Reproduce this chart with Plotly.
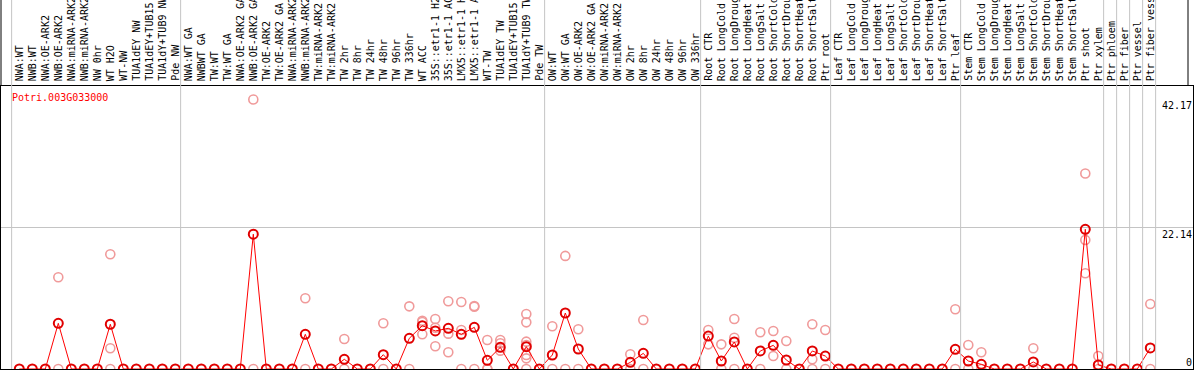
import plotly.graph_objects as go

categories = [
    "NWA:WT", "NWB:WT", "NWA:OE-ARK2", "NWB:OE-ARK2", "NWA:miRNA-ARK2", "NWB:miRNA-ARK2",
    "NW 0hr", "WT H2O", "WT-NW", "TUA1dEY NW", "TUA1dEY+TUB15 NW", "TUA1dY+TUB9 NW", "Pde NW",
    "NWA:WT GA", "NWBWT GA", "TW:WT", "TW:WT GA", "NWA:OE-ARK2 GA", "NWB:OE-ARK2 GA",
    "TW:OE-ARK2", "TW:OE-ARK2 GA", "NWA:miRNA-ARK2 GA", "NWB:miRNA-ARK2 GA", "TW:miRNA-ARK2",
    "TW:miRNA-ARK2 GA", "TW 2hr", "TW 8hr", "TW 24hr", "TW 48hr", "TW 96hr", "TW 336hr",
    "WT ACC", "35S::etr1-1 H2O", "35S::etr1-1 ACC", "LMX5::etr1-1 H2O", "LMX5::etr1-1 ACC",
    "WT-TW", "TUA1dEY TW", "TUA1dEY+TUB15 TW", "TUA1dY+TUB9 TW", "Pde TW",
    "OW:WT", "OW:WT GA", "OW:OE-ARK2", "OW:OE-ARK2 GA", "OW:miRNA-ARK2", "OW:miRNA-ARK2 GA",
    "OW 2hr", "OW 8hr", "OW 24hr", "OW 48hr", "OW 96hr", "OW 336hr",
    "Root CTR", "Root LongCold", "Root LongDrought", "Root LongHeat", "Root LongSalt",
    "Root ShortCold", "Root ShortDrought", "Root ShortHeat", "Root ShortSalt", "Ptr root",
    "Leaf CTR", "Leaf LongCold", "Leaf LongDrought", "Leaf LongHeat", "Leaf LongSalt",
    "Leaf ShortCold", "Leaf ShortDrought", "Leaf ShortHeat", "Leaf ShortSalt", "Ptr leaf",
    "Stem CTR", "Stem LongCold", "Stem LongDrought", "Stem LongHeat", "Stem LongSalt",
    "Stem ShortCold", "Stem ShortDrought", "Stem ShortHeat", "Stem ShortSalt", "Ptr shoot",
    "Ptr xylem", "Ptr phloem", "Ptr fiber", "Ptr vessel", "Ptr fiber vessel",
]

mean_values = [
    0, 0, 0, 7.15, 0, 0, 0, 7.0, 0, 0,
    0, 0, 0, 0, 0, 0, 0, 0, 21.09, 0,
    0, 0, 5.43, 0, 0, 1.52, 0, 0, 2.24, 0,
    4.8, 6.78, 5.95, 6.37, 5.43, 6.52, 1.36, 3.39, 0, 3.49,
    0, 2.19, 8.76, 3.13, 0, 0, 0, 1.04, 2.45, 0,
    0, 0, 0, 5.16, 1.25, 4.23, 0, 2.82, 3.7, 1.41,
    0, 2.82, 2.03, 0, 0, 0, 0, 0, 0, 0,
    0, 0, 3.08, 1.25, 0.73, 0, 0, 0, 1.1, 0,
    0, 0, 21.86, 0.63, 0, 0, 0, 3.29,
]

# replicate values per category index
replicate_values = {
    3: [14.35, 0], 7: [17.95, 3.24, 0], 18: [42.17, 0], 22: [11.06, 0],
    25: [4.69, 0], 28: [7.15, 0], 30: [9.8, 0], 31: [7.56, 5.43, 7.35],
    32: [7.82, 6.46, 3.55], 33: [10.59, 5.53, 2.61], 34: [10.49, 6.1, 0],
    35: [9.86, 9.75, 0], 36: [4.54, 0, 0], 37: [4.54, 4.02, 2.87],
    39: [8.6, 7.3, 4.28, 3.76, 2.19, 1.67, 0], 41: [6.68, 0], 42: [17.7, 0],
    43: [6.21, 0], 47: [2.3, 0], 48: [7.67, 0], 53: [6.1, 3.86], 54: [3.86, 0],
    55: [7.82, 4.9, 0], 57: [5.74, 0], 58: [5.95, 2.03], 59: [4.38, 0],
    61: [7.0, 1.52, 0], 62: [6.1, 0], 72: [9.34, 0], 73: [3.76, 0], 74: [2.61, 0],
    78: [3.24, 0], 82: [30.6, 20.2, 14.97], 83: [2.03, 0], 87: [10.17, 0],
}

# last index of each group (separator drawn after it)
group_ends = [-1, 12, 40, 52, 62, 72, 83, 84, 85, 86, 87]

gene = "Potri.003G033000"
max_label = 42.17
mid_label = 22.14
y_top = 44.28

W, H = 1194, 370
ML, MR, MT, MB = 1, 1, 86, 1
plot_w = W - ML - MR
plot_h = H - MT - MB
x_min = -1.408
x_max = x_min + plot_w / 13.0
MONO = "DejaVu Sans Mono"

xs = list(range(len(categories)))

rep_x, rep_y = [], []
for idx, vals in replicate_values.items():
    for v in vals:
        rep_x.append(idx)
        rep_y.append(v)

fig = go.Figure()
fig.add_trace(go.Scatter(
    x=rep_x, y=rep_y, mode="markers", cliponaxis=False,
    marker=dict(symbol="circle-open", size=9, color="#f09a9a", line=dict(width=1.6)),
    hoverinfo="skip", showlegend=False))
fig.add_trace(go.Scatter(
    x=xs, y=mean_values, mode="lines+markers", cliponaxis=False,
    line=dict(color="#ff0000", width=1),
    marker=dict(symbol="circle-open", size=9, color="#e00000", line=dict(width=2)),
    showlegend=False))

def px(v):
    return (v - x_min) / (x_max - x_min)

header_top = 1 + MT / plot_h
shapes = []
for g in group_ends:
    xp = px(g + 0.41)
    shapes.append(dict(type="line", xref="paper", yref="paper", x0=xp, x1=xp,
                       y0=0, y1=header_top, line=dict(color="#c4c4c4", width=1)))
shapes.append(dict(type="line", xref="paper", yref="paper", x0=0, x1=0, y0=1, y1=header_top,
                   line=dict(color="black", width=1)))
xr = (1188 - ML) / plot_w
shapes.append(dict(type="line", xref="paper", yref="paper", x0=xr, x1=xr, y0=1, y1=header_top,
                   line=dict(color="black", width=1)))

annotations = []
for i, lab in enumerate(categories):
    annotations.append(dict(x=i, y=1, xref="x", yref="paper", yshift=3, text=lab,
                            textangle=-90, xanchor="center", yanchor="bottom",
                            showarrow=False, font=dict(family=MONO, size=10, color="black")))
annotations.append(dict(x=(10 - ML) / plot_w, y=1, xref="paper", yref="paper", yshift=-4,
                        text=gene, xanchor="left", yanchor="top", showarrow=False,
                        font=dict(family=MONO, size=10, color="#ff0000")))
for val, anc in [(max_label, "top"), (mid_label, "top"), (0, "bottom")]:
    annotations.append(dict(x=1, y=val, xref="paper", yref="y", text=f"{val:g}",
                            xanchor="right", yanchor=anc, showarrow=False, bgcolor="white",
                            borderpad=0, font=dict(family=MONO, size=10, color="black")))

fig.update_layout(
    width=W, height=H, margin=dict(l=ML, r=MR, t=MT, b=MB, pad=0),
    paper_bgcolor="white", plot_bgcolor="white", hovermode=False,
    xaxis=dict(range=[x_min, x_max], showgrid=False, zeroline=False, showticklabels=False,
               ticks="", showline=True, linecolor="black", linewidth=1, mirror=True),
    yaxis=dict(range=[0, y_top], tickvals=[mid_label], showgrid=True, gridcolor="#c4c4c4",
               gridwidth=1, zeroline=False, showticklabels=False, ticks="",
               showline=True, linecolor="black", linewidth=1, mirror=True),
    shapes=shapes, annotations=annotations,
)

fig.write_html("out.html", config={"displayModeBar": False},
               post_script="document.body.style.margin='0';document.body.style.overflow='hidden';")
